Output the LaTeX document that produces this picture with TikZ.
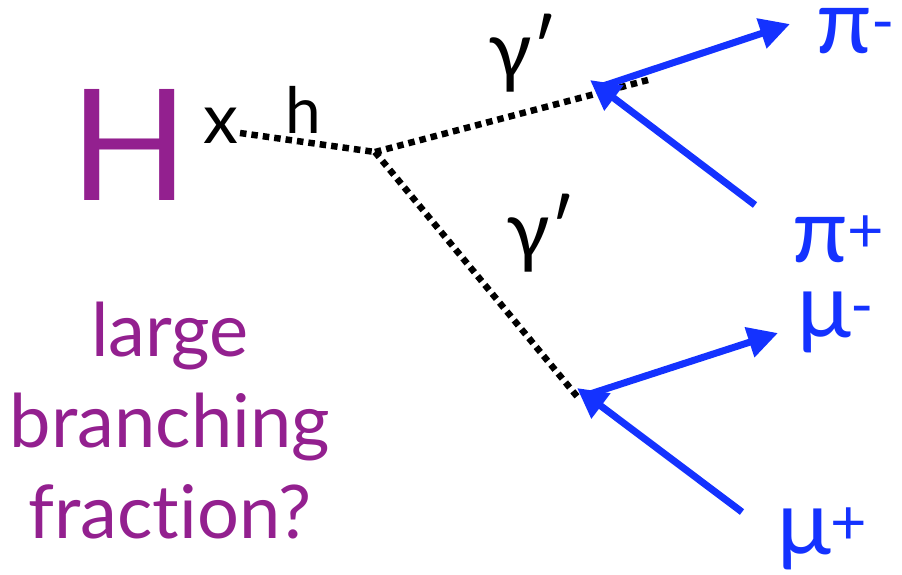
\documentclass[tikz,border=0pt]{standalone}
\usepackage{fontspec}
\setmainfont{Lato}[Ligatures=NoCommon]
\usetikzlibrary{arrows.meta}
\definecolor{higgspurple}{RGB}{147,32,143}
\definecolor{decayblue}{RGB}{20,50,255}

\begin{document}
\begin{tikzpicture}[
    x=1pt, y=-1pt,
    lbl/.style={inner sep=0pt, anchor=base west},
    dark/.style={line width=6.5pt, dash pattern=on 6.5pt off 5pt, black},
    decay/.style={-{Triangle[length=30pt,width=30pt]}, line width=7pt, decayblue},
    particle/.style={lbl, text=decayblue, font=\fontsize{90}{90}\selectfont},
    photon/.style={lbl, font=\fontsize{80}{80}\selectfont}
]
\useasboundingbox (0,0) rectangle (902,574);

% Higgs and the question below it
\node (H) [lbl, text=higgspurple, font=\fontsize{155}{155}\selectfont] at (70,200) {H};
\node (bf) [inner sep=0pt, anchor=base, align=center, text=higgspurple, font=\fontsize{74}{91}\selectfont] at (170,538) {large\\branching\\fract\kern0pt ion?};
\node (x) [lbl, font=\fontsize{70}{70}\selectfont] at (203,143) {x};
\node (h) [lbl, font=\fontsize{64}{64}\selectfont] at (285,133) {h};

% Dark photons
\node (gA) [photon] at (488,78) {γ′};
\node (gB) [photon] at (506,258) {γ′};

% Final states
\node (pim) [particle] at (816,53) {π\textsuperscript{-}};
\node (pip) [particle] at (792,262) {π\textsuperscript{+}};
\node (mum) [particle] at (797,337) {μ\textsuperscript{-}};
\node (mup) [particle] at (777,554) {μ\textsuperscript{+}};

% Vertices
\coordinate (hx) at (240,133);
\coordinate (vtx) at (375,152);
\coordinate (endA) at (648,80);
\coordinate (endB) at (580,400);
\coordinate (vA) at (590,80);
\coordinate (vAout) at (600,87);
\coordinate (vB) at (577,388);
\coordinate (vBout) at (590,394);
\coordinate (pipStart) at (755,205);
\coordinate (pimTip) at (790,24);
\coordinate (mupStart) at (742,512);
\coordinate (mumTip) at (778,333);

% Dotted lines
\draw [dark] (hx) -- (vtx);
\draw [dark] (vtx) -- (endA);
\draw [dark] (vtx) -- (endB);

% Decays
\draw [decay] (pipStart) -- (vA);
\draw [decay] (vAout) -- (pimTip);
\draw [decay] (mupStart) -- (vB);
\draw [decay] (vBout) -- (mumTip);

\end{tikzpicture}
\end{document}
